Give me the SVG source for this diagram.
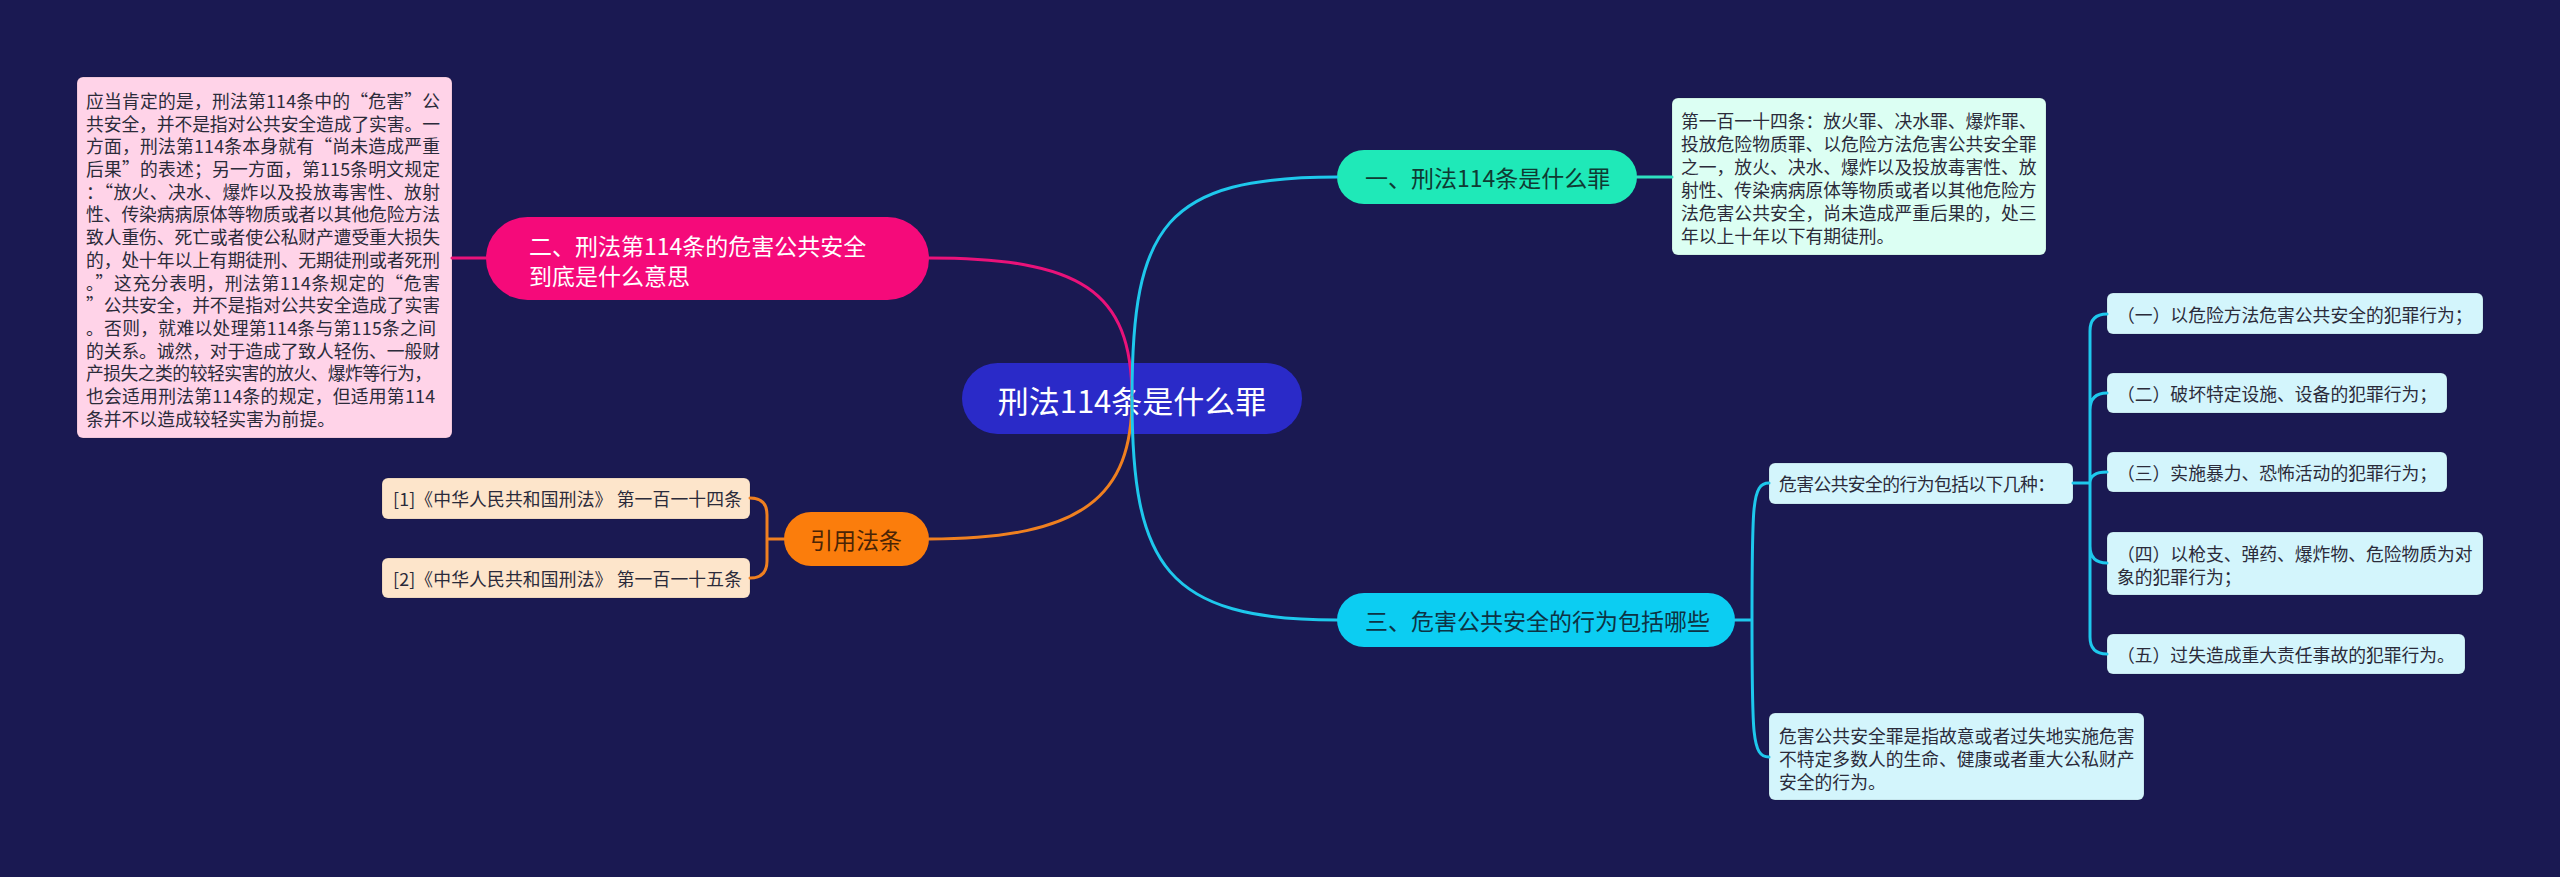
<svg xmlns="http://www.w3.org/2000/svg" width="2560" height="877" viewBox="0 0 2560 877">
<style>
text{font-family:"Noto Sans CJK SC","Noto Sans",sans-serif;dominant-baseline:central}
.t{font-size:17.8px;fill:#2b2b3a}
.n1{font-size:23px}
.c{fill:none;stroke-width:3;stroke-linecap:round}
.pk{stroke:#e9127a}.cy{stroke:#1ec8ec}.tl{stroke:#2ee0c0}.or{stroke:#f08020}
.box{stroke:#000;stroke-opacity:0.12;stroke-width:1}
</style>
<rect width="2560" height="877" fill="#1a1952"/>

<g id="root">
<rect x="962" y="363" width="340" height="71" rx="35.5" fill="#2a2ac8"/>
<text x="1132" y="399" font-size="31" fill="#ffffff" text-anchor="middle">刑法114条是什么罪</text>
</g>

<g id="n1">
<rect x="1337" y="150" width="300" height="54" rx="27" fill="#1fe9b8"/>
<text class="n1" x="1365" y="177" fill="#0f3a33">一、刑法114条是什么罪</text>
</g>
<g id="n1-box">
<rect class="box" x="1672" y="98" width="374" height="157" rx="6" fill="#dcfff3"/>
<text class="t" x="1681" y="120">第一百一十四条：放火罪、决水罪、爆炸罪、</text>
<text class="t" x="1681" y="143">投放危险物质罪、以危险方法危害公共安全罪</text>
<text class="t" x="1681" y="166">之一，放火、决水、爆炸以及投放毒害性、放</text>
<text class="t" x="1681" y="189">射性、传染病病原体等物质或者以其他危险方</text>
<text class="t" x="1681" y="212">法危害公共安全，尚未造成严重后果的，处三</text>
<text class="t" x="1681" y="235">年以上十年以下有期徒刑。</text>
</g>

<g id="n2">
<rect x="486" y="217" width="443" height="83" rx="41.5" fill="#f50a7a"/>
<text class="n1" x="529" y="245" fill="#ffffff">二、刑法第114条的危害公共安全</text>
<text class="n1" x="529" y="275" fill="#ffffff">到底是什么意思</text>
</g>
<g id="n2-box">
<rect class="box" x="77" y="77" width="375" height="361" rx="6" fill="#ffd3e8"/>
<text class="t" x="86" y="100" textLength="354">应当肯定的是，刑法第114条中的“危害”公</text>
<text class="t" x="86" y="123" textLength="354">共安全，并不是指对公共安全造成了实害。一</text>
<text class="t" x="86" y="145" textLength="354">方面，刑法第114条本身就有“尚未造成严重</text>
<text class="t" x="86" y="168" textLength="354">后果”的表述；另一方面，第115条明文规定</text>
<text class="t" x="86" y="191" textLength="354">：“放火、决水、爆炸以及投放毒害性、放射</text>
<text class="t" x="86" y="213" textLength="354">性、传染病病原体等物质或者以其他危险方法</text>
<text class="t" x="86" y="236" textLength="354">致人重伤、死亡或者使公私财产遭受重大损失</text>
<text class="t" x="86" y="259" textLength="354">的，处十年以上有期徒刑、无期徒刑或者死刑</text>
<text class="t" x="86" y="282" textLength="354">。”这充分表明，刑法第114条规定的“危害</text>
<text class="t" x="86" y="304" textLength="354">”公共安全，并不是指对公共安全造成了实害</text>
<text class="t" x="86" y="327" textLength="350">。否则，就难以处理第114条与第115条之间</text>
<text class="t" x="86" y="350" textLength="354">的关系。诚然，对于造成了致人轻伤、一般财</text>
<text class="t" x="86" y="372" textLength="346">产损失之类的较轻实害的放火、爆炸等行为，</text>
<text class="t" x="86" y="395" textLength="349">也会适用刑法第114条的规定，但适用第114</text>
<text class="t" x="86" y="418">条并不以造成较轻实害为前提。</text>
</g>

<g id="n4">
<rect x="784" y="512" width="145" height="54" rx="27" fill="#fb7d0c"/>
<text class="n1" x="856" y="539" fill="#4a2405" text-anchor="middle">引用法条</text>
</g>
<g id="cite1">
<rect class="box" x="382" y="478" width="368" height="41" rx="6" fill="#fde5cb"/>
<text class="t" x="393" y="498" textLength="349">[1]《中华人民共和国刑法》 第一百一十四条</text>
</g>
<g id="cite2">
<rect class="box" x="382" y="558" width="368" height="40" rx="6" fill="#fde5cb"/>
<text class="t" x="393" y="578" textLength="349">[2]《中华人民共和国刑法》 第一百一十五条</text>
</g>

<g id="n3">
<rect x="1337" y="593" width="398" height="54" rx="27" fill="#0ccdf2"/>
<text class="n1" x="1365" y="620" fill="#0d3344">三、危害公共安全的行为包括哪些</text>
</g>
<g id="n3-a">
<rect class="box" x="1769" y="463" width="304" height="41" rx="6" fill="#d3f5fc"/>
<text class="t" x="1779" y="483" textLength="276">危害公共安全的行为包括以下几种：</text>
</g>
<g id="item1">
<rect class="box" x="2107" y="293" width="376" height="41" rx="6" fill="#d3f5fc"/>
<text class="t" x="2117" y="314">（一）以危险方法危害公共安全的犯罪行为；</text>
</g>
<g id="item2">
<rect class="box" x="2107" y="373" width="340" height="40" rx="6" fill="#d3f5fc"/>
<text class="t" x="2117" y="393">（二）破坏特定设施、设备的犯罪行为；</text>
</g>
<g id="item3">
<rect class="box" x="2107" y="452" width="340" height="40" rx="6" fill="#d3f5fc"/>
<text class="t" x="2117" y="472">（三）实施暴力、恐怖活动的犯罪行为；</text>
</g>
<g id="item4">
<rect class="box" x="2107" y="532" width="376" height="63" rx="6" fill="#d3f5fc"/>
<text class="t" x="2117" y="553">（四）以枪支、弹药、爆炸物、危险物质为对</text>
<text class="t" x="2117" y="576">象的犯罪行为；</text>
</g>
<g id="item5">
<rect class="box" x="2107" y="634" width="358" height="40" rx="6" fill="#d3f5fc"/>
<text class="t" x="2117" y="654">（五）过失造成重大责任事故的犯罪行为。</text>
</g>
<g id="n3-b">
<rect class="box" x="1769" y="713" width="375" height="87" rx="6" fill="#d3f5fc"/>
<text class="t" x="1779" y="735">危害公共安全罪是指故意或者过失地实施危害</text>
<text class="t" x="1779" y="758">不特定多数人的生命、健康或者重大公私财产</text>
<text class="t" x="1779" y="781">安全的行为。</text>
</g>

<g id="connectors">
<path class="c pk" d="M1132 398 C1132 290 1080 258 929 258"/>
<path class="c pk" d="M486 258 H452"/>
<path class="c cy" d="M1132 398 C1132 225 1165 177 1337 177"/>
<path class="c tl" d="M1637 177 H1672"/>
<path class="c or" d="M1132 398 C1132 495 1085 539 929 539"/>
<path class="c or" d="M784 539 H767 M750 498 Q767 498 767 515 V561 Q767 578 750 578"/>
<path class="c cy" d="M1132 398 C1132 565 1165 620 1337 620"/>
<path class="c cy" d="M1735 620 H1752 M1752 620 C1752 505 1752 483 1769 483 M1752 620 C1752 735 1752 757 1769 757"/>
<path class="c cy" d="M2073 483 H2090 M2090 483 V331 Q2090 314 2107 314 M2090 483 V410 Q2090 393 2107 393 M2090 483 Q2090 472 2107 472 M2090 483 V546 Q2090 563 2107 563 M2090 483 V637 Q2090 654 2107 654"/>
</g>
</svg>
